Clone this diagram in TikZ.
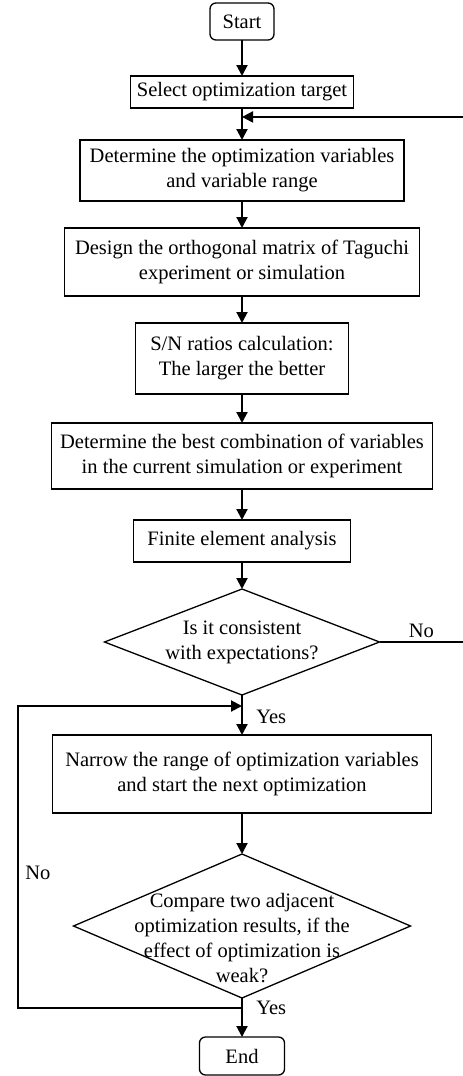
\documentclass[tikz,border=0pt]{standalone}
\usepackage{fontspec}
\setmainfont{Liberation Serif}
\usetikzlibrary{shapes.geometric, arrows.meta, positioning, calc}

\begin{document}
\begin{tikzpicture}[x=1pt, y=1pt, >={Triangle[length=11pt,width=11pt]},
    every node/.style={font=\fontsize{20.5}{25}\selectfont},
    process/.style={draw, rectangle, line width=1.3pt, align=center, inner xsep=4pt, inner ysep=3pt, outer sep=0pt},
    terminal/.style={process, rounded corners=6pt},
    decision/.style={draw, diamond, line width=1.3pt, inner sep=0pt, outer sep=0pt},
    flow/.style={->, line width=2pt}]
        \path[use as bounding box, clip] (0,0) rectangle (463,-1076);

        \node[terminal, minimum width=64pt, minimum height=37pt] (start) at (242,-21.5) {Start};
        \node[process, minimum width=223pt, minimum height=32pt, below=36pt of start] (target) {Select optimization target};
        \node[process, minimum width=324pt, minimum height=61pt, below=32pt of target] (vars) {Determine the optimization variables\\ and variable range};
        \node[process, minimum width=355pt, minimum height=68pt, below=27pt of vars] (taguchi) {Design the orthogonal matrix of Taguchi\\ experiment or simulation};
        \node[process, minimum width=213pt, minimum height=71pt, below=27pt of taguchi] (snr) {S/N ratios calculation:\\ The larger the better};
        \node[process, minimum width=381pt, minimum height=66pt, below=29pt of snr] (best) {Determine the best combination of variables\\ in the current simulation or experiment};
        \node[process, minimum width=217pt, minimum height=42pt, below=31pt of best] (fea) {Finite element analysis};
        \node[decision, minimum width=275pt, minimum height=106pt, below=27pt of fea,
            label={[align=center]center:Is it consistent\\ with expectations?}] (check) {};
        \node[process, minimum width=379pt, minimum height=78pt, below=40pt of check] (narrow) {Narrow the range of optimization variables\\ and start the next optimization};
        \node[decision, minimum width=337pt, minimum height=144pt, below=41pt of narrow,
            label={[align=center, yshift=-12pt]center:Compare two adjacent\\ optimization results, if the\\ effect of optimization is\\ weak?}] (compare) {};
        \node[terminal, minimum width=85pt, minimum height=38pt, below=39pt of compare] (end) {End};

        % join points of the two feedback loops
        \coordinate (backjoin) at ($(target.south)!0.28!(vars.north)$);
        \coordinate (yesjoin) at ($(check.south)!0.275!(narrow.north)$);
        \coordinate (weakjoin) at ($(compare.south)!0.26!(end.north)$);
        \coordinate (rightrail) at (465,0);
        \coordinate (leftrail) at (18,0);

        \draw[flow] (start) -- (target);
        \draw[flow] (target) -- (vars);
        \draw[flow] (vars) -- (taguchi);
        \draw[flow] (taguchi) -- (snr);
        \draw[flow] (snr) -- (best);
        \draw[flow] (best) -- (fea);
        \draw[flow] (fea) -- (check);
        \draw[flow] (check) -- node[pos=0.55, right=10pt] {Yes} (narrow);
        \draw[flow] (narrow) -- (compare);
        \draw[flow] (compare) -- node[pos=0.26, right=10pt] {Yes} (end);

        % loops back to the top and to the narrowing step
        \draw[flow] (check.east) -- node[above, pos=0.49] {No} (check.east -| rightrail) -- (backjoin -| rightrail) -- (backjoin);
        \draw[flow] (weakjoin) -- (weakjoin -| leftrail) -- node[right, pos=0.447, xshift=3pt] {No} (yesjoin -| leftrail) -- (yesjoin);
    \end{tikzpicture}
\end{document}
